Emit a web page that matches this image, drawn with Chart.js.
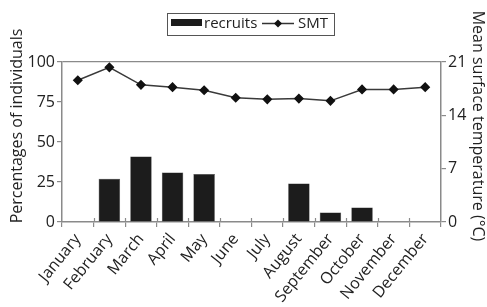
<!DOCTYPE html>
<html>
<head>
<meta charset="utf-8">
<script src="https://cdn.jsdelivr.net/npm/chart.js@4.4.1/dist/chart.umd.min.js"></script>
<style>
  html, body { margin: 0; padding: 0; background: #fff; }
  canvas { display: block; }
</style>
</head>
<body>
<canvas id="myChart" width="487" height="307"></canvas>
<script>
// data
const months = ['January', 'February', 'March', 'April', 'May', 'June', 'July',
    'August', 'September', 'October', 'November', 'December'];
const recruits = [0, 27, 41, 31, 30, 0, 0, 24, 6, 9, 0, 0];
const smt = [18.6, 20.3, 18.0, 17.7, 17.3, 16.3, 16.1, 16.2, 15.9, 17.4, 17.4, 17.7];
const leftTicks = [0, 25, 50, 75, 100];
const rightTicks = [0, 7, 14, 21];

const axisGray = '#8a8a8a';
const fontFamily = '"Open Sans", "Noto Sans", sans-serif';

// legend box + axis titles drawn on the canvas
const extras = {
    id: 'extras',
    afterDraw(chart) {
        const ctx = chart.ctx;
        ctx.save();
        // legend
        ctx.strokeStyle = '#555';
        ctx.lineWidth = 1;
        ctx.strokeRect(167.5, 13.5, 167, 22);
        ctx.fillStyle = '#1c1c1c';
        ctx.fillRect(171, 19, 31, 7);
        ctx.font = '15px ' + fontFamily;
        ctx.fillStyle = '#222';
        ctx.textBaseline = 'middle';
        ctx.textAlign = 'left';
        ctx.fillText('recruits', 204, 23.5);
        ctx.strokeStyle = '#333';
        ctx.lineWidth = 1.5;
        ctx.beginPath();
        ctx.moveTo(262, 23.5);
        ctx.lineTo(294, 23.5);
        ctx.stroke();
        ctx.fillStyle = '#111';
        ctx.beginPath();
        ctx.moveTo(278, 19.5);
        ctx.lineTo(282, 23.5);
        ctx.lineTo(278, 27.5);
        ctx.lineTo(274, 23.5);
        ctx.closePath();
        ctx.fill();
        ctx.fillStyle = '#222';
        ctx.fillText('SMT', 298, 23.5);

        // axis titles
        ctx.font = '16px ' + fontFamily;
        ctx.textAlign = 'center';
        ctx.save();
        ctx.translate(17, 126);
        ctx.rotate(-Math.PI / 2);
        ctx.fillText('Percentages of individuals', 0, 0);
        ctx.restore();
        ctx.save();
        ctx.translate(478, 126);
        ctx.rotate(Math.PI / 2);
        ctx.fillText('Mean surface temperature (\u00B0C)', 0, 0);
        ctx.restore();

        // small inner tick marks on the month axis
        const xs = chart.scales.x;
        const bottom = chart.chartArea.bottom;
        ctx.strokeStyle = axisGray;
        ctx.lineWidth = 1.2;
        for (let i = 1; i < months.length; i++) {
            const px = Math.round((xs.getPixelForTick(i - 1) + xs.getPixelForTick(i)) / 2) + 0.5;
            ctx.beginPath();
            ctx.moveTo(px, bottom);
            ctx.lineTo(px, bottom - 4);
            ctx.stroke();
        }
        ctx.restore();
    }
};

const data = {
    labels: months,
    datasets: [{
        type: 'line',
        label: 'SMT',
        data: smt,
        yAxisID: 'y1',
        borderColor: '#3a3a3a',
        borderWidth: 1.5,
        backgroundColor: '#111',
        pointStyle: 'rectRot',
        pointRadius: 4,
        pointBackgroundColor: '#111',
        pointBorderColor: '#111',
        tension: 0,
        order: 1
    }, {
        type: 'bar',
        label: 'recruits',
        data: recruits,
        yAxisID: 'y',
        backgroundColor: '#1c1c1c',
        borderColor: '#333',
        borderWidth: 0.5,
        categoryPercentage: 1,
        barPercentage: 0.68,
        order: 2
    }]
};

const config = {
    data: data,
    options: {
        responsive: false,
        animation: false,
        layout: { padding: { top: 62, left: 0, right: 0, bottom: 0 } },
        plugins: {
            legend: { display: false },
            tooltip: { enabled: false }
        },
        scales: {
            x: {
                offset: true,
                grid: {
                    offset: true,
                    drawOnChartArea: false,
                    color: axisGray,
                    tickLength: 5,
                    lineWidth: 1.2
                },
                border: { color: axisGray, width: 1.5 },
                ticks: {
                    color: '#222',
                    font: { family: fontFamily, size: 16 },
                    minRotation: 51,
                    maxRotation: 51,
                    padding: 3,
                    autoSkip: false
                },
                afterFit: (scale) => { scale.height = 85; }
            },
            y: {
                position: 'left',
                min: 0,
                max: 100,
                afterBuildTicks: (scale) => { scale.ticks = leftTicks.map(v => ({ value: v })); },
                grid: {
                    color: (c) => (c.tick && c.tick.value === 100) ? axisGray : 'rgba(0,0,0,0)',
                    tickColor: axisGray,
                    tickLength: 5,
                    lineWidth: 1.2
                },
                border: { color: axisGray, width: 1.5 },
                ticks: {
                    color: '#222',
                    font: { family: fontFamily, size: 16 },
                    padding: 2
                },
                afterFit: (scale) => { scale.width = 62; }
            },
            y1: {
                position: 'right',
                min: 0,
                max: 21,
                afterBuildTicks: (scale) => { scale.ticks = rightTicks.map(v => ({ value: v })); },
                grid: {
                    drawOnChartArea: false,
                    color: axisGray,
                    tickLength: 5,
                    lineWidth: 1.2
                },
                border: { color: axisGray, width: 1.5 },
                ticks: {
                    color: '#222',
                    font: { family: fontFamily, size: 16 },
                    padding: 2
                },
                afterFit: (scale) => { scale.width = 46; }
            }
        }
    },
    plugins: [extras]
};

const myChart = new Chart(
    document.getElementById('myChart'),
    config
);
</script>
</body>
</html>
